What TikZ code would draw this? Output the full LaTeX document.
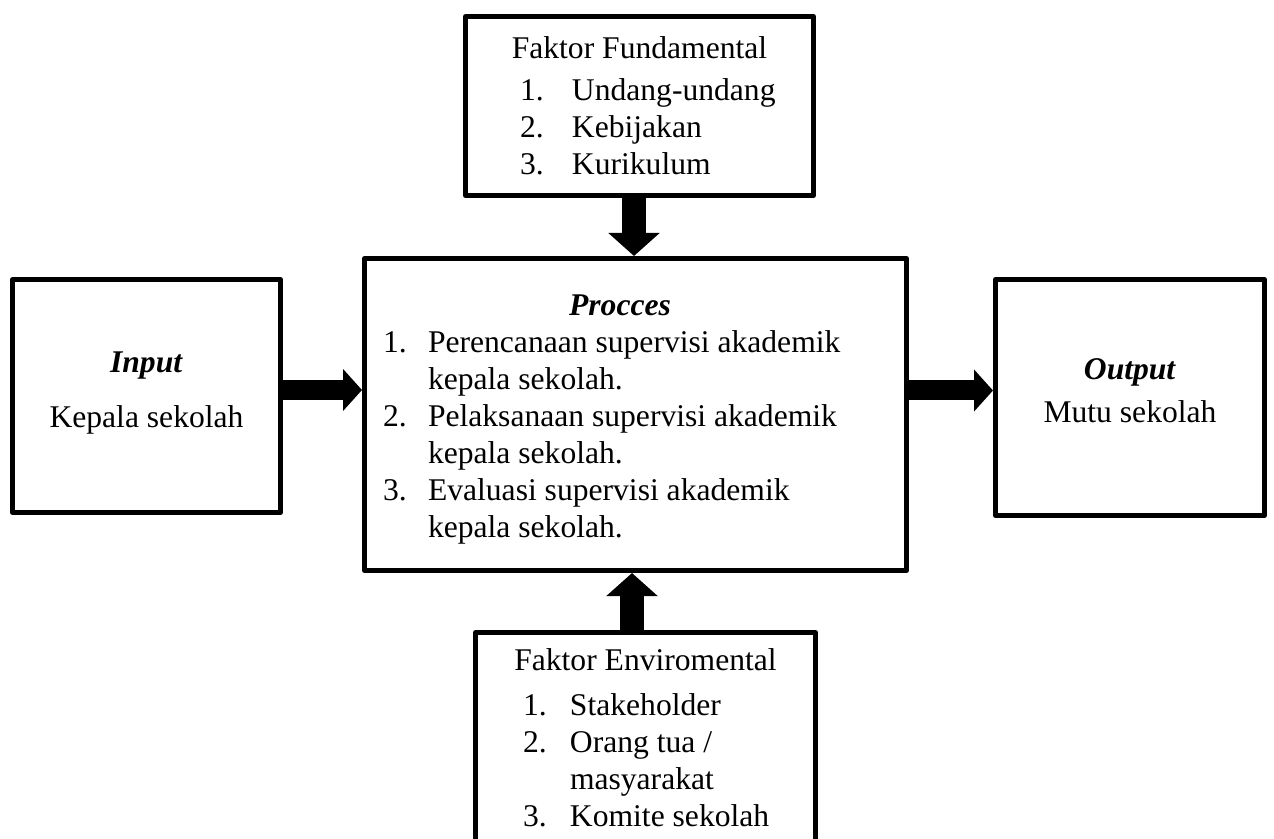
\documentclass[tikz,border=0pt]{standalone}
\usepackage{fontspec}
\setmainfont{Liberation Serif}
\usetikzlibrary{arrows.meta}

% number, then text, in a line of fixed width
\newcommand{\numline}[4]{\makebox[#1][l]{\makebox[#2][l]{#3}#4}}
\newcommand{\bi}[1]{\textbf{\textit{#1}}}

\begin{document}
\begin{tikzpicture}[x=0.5pt, y=-0.5pt,
  box/.style={draw, line width=2.5pt, line join=round, align=center, inner sep=0pt,
    font=\fontsize{15.8}{18.5}\selectfont},
  vertarrow/.style={line width=12pt, -{Triangle[length=11.5pt, width=25pt]}},
  horzarrow/.style={line width=10pt, -{Triangle[length=9.5pt, width=20.5pt]}}]

\useasboundingbox (0,0) rectangle (1274,839);

% Draw the fundamental factors
\node[box, minimum width=174pt, minimum height=89.5pt] (fundamental) at (639.5,106)
  {Faktor Fundamental\\[2.5pt]
   \numline{119.5pt}{26pt}{1.}{Undang-undang}\\
   \numline{119.5pt}{26pt}{2.}{Kebijakan}\\
   \numline{119.5pt}{26pt}{3.}{Kurikulum}};

% Draw the process
\node[box, minimum width=271pt, minimum height=156pt] (process) at (635.5,414.5)
  {\hspace*{-15.5pt}\rule{0pt}{15.5pt}\bi{Procces}\\
   \numline{252.5pt}{22.5pt}{1.}{Perencanaan supervisi akademik}\\
   \numline{252.5pt}{22.5pt}{}{kepala sekolah.}\\
   \numline{252.5pt}{22.5pt}{2.}{Pelaksanaan supervisi akademik}\\
   \numline{252.5pt}{22.5pt}{}{kepala sekolah.}\\
   \numline{252.5pt}{22.5pt}{3.}{Evaluasi supervisi akademik}\\
   \numline{252.5pt}{22.5pt}{}{kepala sekolah.}};

% Draw the input and the output
\node[box, minimum width=134pt, minimum height=116.5pt] (input) at (146.5,396)
  {\bi{Input}\\[9pt] Kepala sekolah\rule[-6.5pt]{0pt}{6.5pt}};
\node[box, minimum width=134.5pt, minimum height=118pt] (output) at (1130,397.5)
  {\bi{Output}\\[3pt] Mutu sekolah\rule[-7pt]{0pt}{7pt}};

% Draw the enviromental factors
\node[box, minimum width=170pt, minimum height=105pt] (enviromental) at (645.5,737.5)
  {Faktor Enviromental\\[4pt]
   \numline{122.5pt}{23.5pt}{1.}{Stakeholder}\\
   \numline{122.5pt}{23.5pt}{2.}{Orang tua /}\\
   \numline{122.5pt}{23.5pt}{}{masyarakat}\\
   \numline{122.5pt}{23.5pt}{3.}{Komite sekolah}};

% Draw the arrows
\draw[vertarrow, transform canvas={xshift=-0.75pt}] (process.north |- fundamental.south) -- (process.north);
\draw[vertarrow, transform canvas={xshift=-1.75pt}] (process.south |- enviromental.north) -- (process.south);
\draw[horzarrow, transform canvas={yshift=3pt}] (input.east) -- (input.east -| process.west);
\draw[horzarrow, transform canvas={yshift=3.5pt}] (process.east |- output.west) -- (output.west);

\end{tikzpicture}
\end{document}
